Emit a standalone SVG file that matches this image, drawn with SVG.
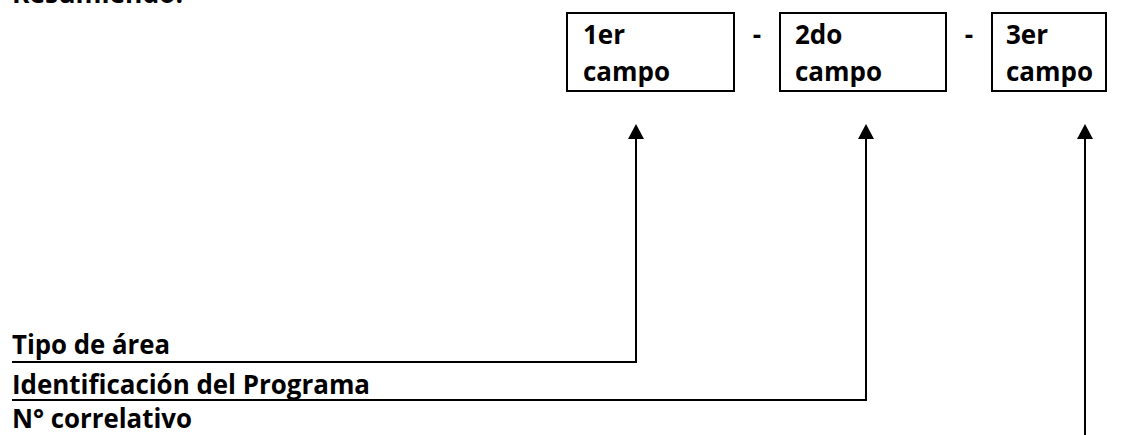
<svg xmlns="http://www.w3.org/2000/svg" width="1146" height="435" viewBox="0 0 1146 435">
  <defs>
    <!-- arrowhead drawn along +x; its base sits on the line end -->
    <marker id="arrow" viewBox="0 0 15 16" refX="0" refY="8" markerWidth="15" markerHeight="16" markerUnits="userSpaceOnUse" orient="auto">
      <path d="M0,0 L15,8 L0,16 Z" fill="#000"/>
    </marker>
    <style>
      .lbl { font-family: "Open Sans", "Liberation Sans", sans-serif; font-weight: bold; font-size: 26px; fill: #000; }
      .box { fill: #fff; stroke: #000; stroke-width: 2; }
      .wire { fill: none; stroke: #000; stroke-width: 2; }
    </style>
  </defs>
  <rect width="1146" height="435" fill="#fff"/>

  <text class="lbl" x="12" y="3" textLength="171" lengthAdjust="spacingAndGlyphs">Resumiendo:</text>

  <g id="campo1">
    <rect class="box" x="567" y="13" width="167" height="78"/>
    <text class="lbl" x="583" y="44">1er</text>
    <text class="lbl" x="583" y="81" textLength="87" lengthAdjust="spacingAndGlyphs">campo</text>
  </g>
  <text class="lbl" x="757" y="44" text-anchor="middle">-</text>
  <g id="campo2">
    <rect class="box" x="780" y="13" width="166" height="78"/>
    <text class="lbl" x="795" y="44">2do</text>
    <text class="lbl" x="795" y="81" textLength="87" lengthAdjust="spacingAndGlyphs">campo</text>
  </g>
  <text class="lbl" x="969" y="44" text-anchor="middle">-</text>
  <g id="campo3">
    <rect class="box" x="992" y="13" width="114" height="78"/>
    <text class="lbl" x="1006" y="44">3er</text>
    <text class="lbl" x="1006" y="81" textLength="87" lengthAdjust="spacingAndGlyphs">campo</text>
  </g>

  <g id="tipo-area">
    <text class="lbl" x="12" y="354" textLength="158" lengthAdjust="spacingAndGlyphs">Tipo de área</text>
  </g>
  <g id="identificacion">
    <text class="lbl" x="12" y="394" textLength="358" lengthAdjust="spacingAndGlyphs">Identificación del Programa</text>
  </g>
  <g id="correlativo">
    <text class="lbl" x="12" y="428" textLength="180" lengthAdjust="spacingAndGlyphs">N° correlativo</text>
  </g>

  <g id="connectors">
    <polyline class="wire" points="12,362 636,362 636,139" marker-end="url(#arrow)"/>
    <polyline class="wire" points="12,400 866,400 866,139" marker-end="url(#arrow)"/>
    <polyline class="wire" points="1085,435 1085,139" marker-end="url(#arrow)"/>
  </g>
</svg>
